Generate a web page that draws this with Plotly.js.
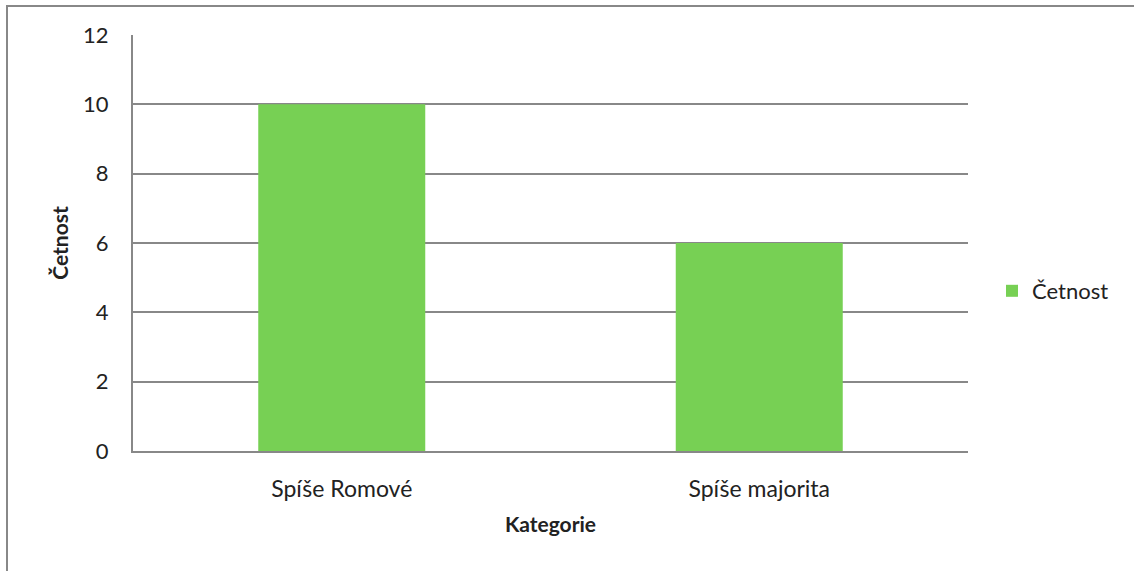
<!DOCTYPE html>
<html><head><meta charset="utf-8">
<script src="https://cdn.plot.ly/plotly-3.0.1.min.js"></script>
<style>body{margin:0;padding:0;background:#fff}#chart{width:1134px;height:571px}</style>
</head><body><div id="chart"></div>
<script>
const categories = ["Spíše Romové", "Spíše majorita"];
const values = [10, 6];
const seriesName = "Četnost";
const yTicks = [0, 2, 4, 6, 8, 10, 12];

const fontFam = "Lato, 'Open Sans', sans-serif";
const L = 133, R = 166, T = 35, B = 120, W = 1134, H = 571;
const pw = W - L - R, ph = H - T - B;

Plotly.newPlot('chart', [{
  type: 'bar', x: categories, y: values, name: seriesName,
  marker: {color: '#77D054'}, showlegend: true
}], {
  width: W, height: H,
  margin: {l: L, r: R, t: T, b: B},
  paper_bgcolor: '#fff', plot_bgcolor: '#fff',
  font: {family: fontFam, size: 22, color: '#222'},
  bargap: 0.6,
  xaxis: {
    showline: true, linecolor: '#888', linewidth: 2, showgrid: false,
    ticks: 'outside', ticklen: 16, tickcolor: 'rgba(0,0,0,0)', tickfont: {size: 23},
    title: {text: '<b>Kategorie</b>', font: {size: 21}, standoff: 17}
  },
  yaxis: {
    range: [0, 12], tickvals: yTicks, showline: true, linecolor: '#888', linewidth: 2,
    gridcolor: '#888', gridwidth: 2, zeroline: false,
    ticks: 'outside', ticklen: 18, tickcolor: 'rgba(0,0,0,0)',
    tickfont: {size: 22}, automargin: false,
    title: {text: '<b>Četnost</b>', font: {size: 21}, standoff: 9}
  },
  legend: {x: (992 - L) / pw, y: (H - B - 291) / ph, xanchor: 'left', yanchor: 'middle',
    font: {size: 22}, bgcolor: 'rgba(0,0,0,0)'},
  shapes: [{
    type: 'rect', xref: 'paper', yref: 'paper',
    x0: (7 - L) / pw, x1: (W + 20 - L) / pw,
    y0: 1 + (T - 6) / ph, y1: -(B + 20) / ph,
    line: {color: '#888', width: 2}
  }]
}, {displayModeBar: false, staticPlot: true});
</script></body></html>
